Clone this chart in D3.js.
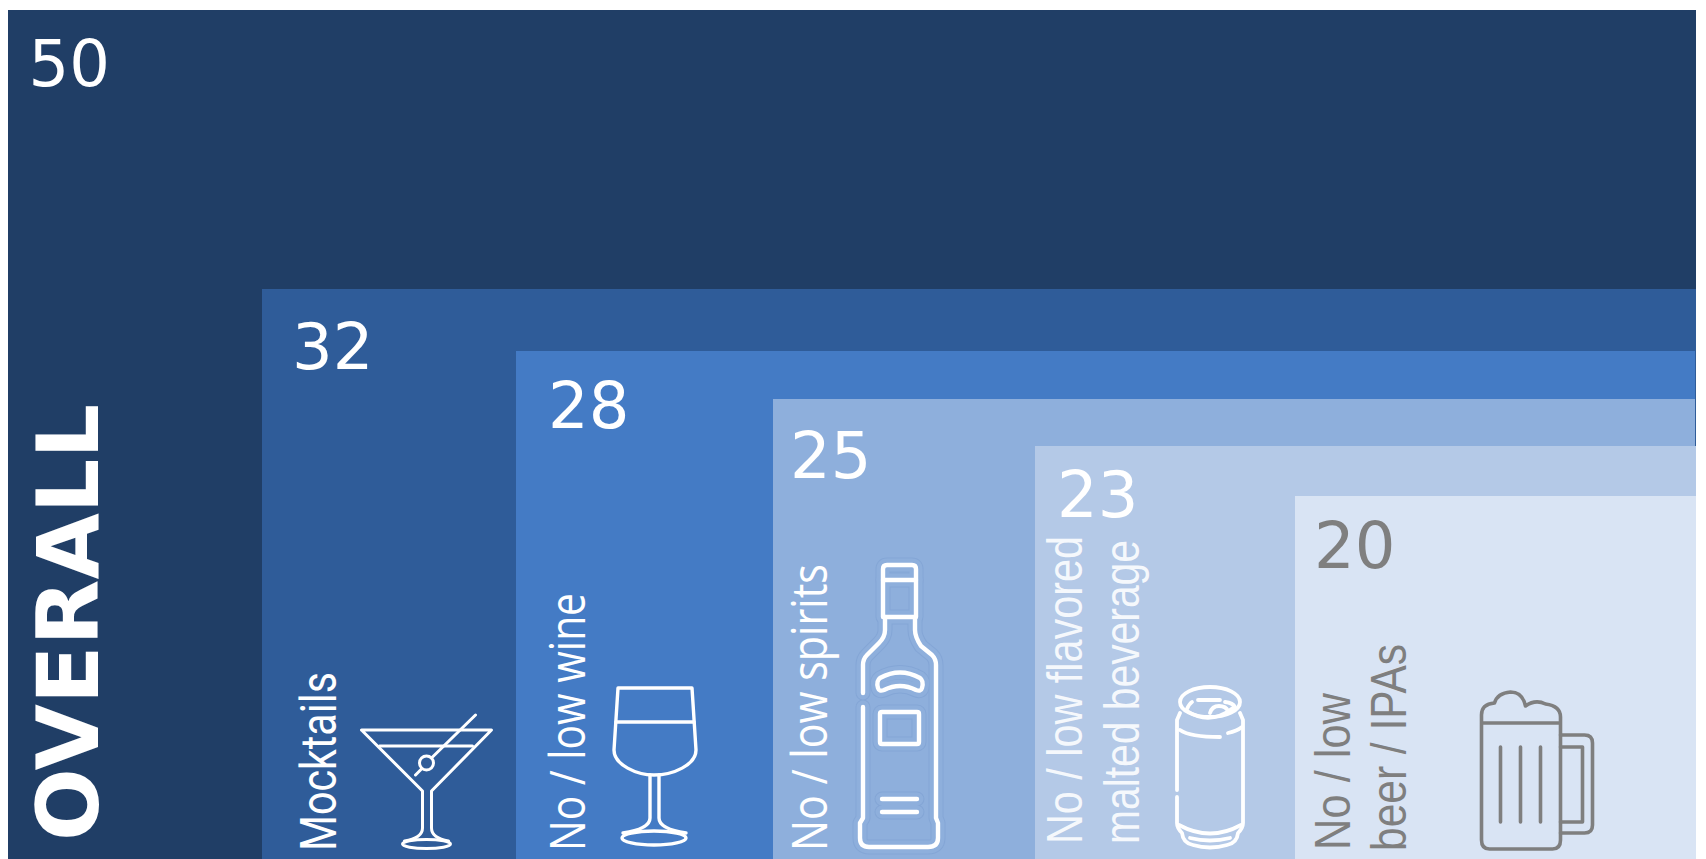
<!DOCTYPE html>
<html>
<head>
<meta charset="utf-8">
<script src="https://cdn.jsdelivr.net/npm/d3@7/dist/d3.min.js"></script>
<style>html,body{margin:0;padding:0;background:#fff;overflow:hidden}svg{display:block}</style>
</head>
<body>
<script>
// Share of respondents by drink category, drawn as nested panels.
const categories = ["Overall", "Mocktails", "No / low wine", "No / low spirits", "No / low flavored malted beverage", "No / low beer / IPAs"];
const values = [50, 32, 28, 25, 23, 20];
const labelLines = [["OVERALL"], ["Mocktails"], ["No / low wine"], ["No / low spirits"], ["No / low flavored", "malted beverage"], ["No / low", "beer / IPAs"]];
const fills = ["#203e66", "#2f5c99", "#447bc5", "#8eafdc", "#b4c9e7", "#d9e4f4"];
const inks = ["#ffffff", "#ffffff", "#ffffff", "#ffffff", "#ffffff", "#7f7f7f"];

const W = 1706, H = 859;
const svg = d3.select("body").append("svg").attr("width", W).attr("height", H);

// The panels step inward with the value; both scales are piecewise so each step keeps its own size.
const xPos = d3.scaleLinear().domain(values).range([8, 262, 516, 773, 1035, 1295]);
const yPos = d3.scaleLinear().domain(values).range([10, 289, 351, 399, 446, 496]);
const rightEdge = [1696, 1696, 1695, 1695, 1696, 1696];

svg.selectAll("rect.panel").data(values).join("rect")
  .attr("class", "panel")
  .attr("x", d => xPos(d))
  .attr("y", d => yPos(d))
  .attr("width", (d, i) => rightEdge[i] - xPos(d))
  .attr("height", d => H - yPos(d))
  .attr("fill", (d, i) => fills[i]);

// Value figures
const figureInset = [[20.5, 76], [30, 80], [32, 77], [17, 79], [22, 71], [19, 72]];
svg.selectAll("text.figure").data(values).join("text")
  .attr("class", "figure")
  .attr("x", (d, i) => xPos(d) + figureInset[i][0])
  .attr("y", (d, i) => yPos(d) + figureInset[i][1])
  .attr("font-family", "DejaVu Sans")
  .attr("font-size", 64)
  .attr("fill", (d, i) => inks[i])
  .text(d => d);

// Rotated category labels: baseline x, start y, run length, face
const labelStyle = [
  [{ x: 98, y: 841, len: 437, font: "DejaVu Sans", size: 85.5, weight: 700 }],
  [{ x: 336, y: 851, len: 179, font: "Roboto", size: 50, weight: 400 }],
  [{ x: 585, y: 851, len: 258, font: "Open Sans", size: 49, weight: 400 }],
  [{ x: 827, y: 851, len: 287, font: "Open Sans", size: 49, weight: 400 }],
  [{ x: 1082, y: 844, len: 308, font: "Liberation Sans", size: 50, weight: 400, opacity: 0.88 },
   { x: 1139, y: 844, len: 304, font: "Liberation Sans", size: 50, weight: 400, opacity: 0.88 }],
  [{ x: 1350, y: 850, len: 157, font: "Liberation Sans", size: 50, weight: 400 },
   { x: 1405.5, y: 851, len: 207, font: "Liberation Sans", size: 50, weight: 400 }]
];
labelLines.forEach((lines, i) => {
  lines.forEach((line, j) => {
    const s = labelStyle[i][j];
    svg.append("text")
      .attr("transform", `translate(${s.x},${s.y}) rotate(-90)`)
      .attr("font-family", s.font)
      .attr("font-size", s.size)
      .attr("font-weight", s.weight)
      .attr("textLength", s.len)
      .attr("lengthAdjust", "spacingAndGlyphs")
      .attr("fill", inks[i])
      .attr("fill-opacity", s.opacity || 1)
      .text(line);
  });
});

// Line icons, each placed relative to the left edge of its panel
const icons = {
  32: { width: 3, dx: -0.5, paths: [
    "M100 730H230L170 791V828Q170 838 187 841M100 730L161 791V828Q161 838 143 841",
    "M118 746H211",
    "M154 775L160 769M170 758L214 715",
    "M158 763a7 7 0 1 0 14 0a7 7 0 1 0 -14 0",
    "M141 844a24 4.5 0 1 0 48 0a24 4.5 0 1 0 -48 0"
  ]},
  28: { width: 3.4, dx: -1, paths: [
    "M103 688H177L181 750C181 765 158 775 139 775C122 775 99 765 99 750Z",
    "M101 722H179",
    "M135 775V818Q135 829 108 833M144 775V818Q144 829 171 833",
    "M107 838a32 7 0 1 0 64 0a32 7 0 1 0 -64 0"
  ]},
  25: { width: 4.4, halo: ["#84a6d6", "#8eafdc"], paths: [
    "M112 617V630Q112 637 106 643L94 655Q90 659 90 665V693",
    "M90 707V818L87 823V838Q87 847 96 847H155Q165 847 165 838V823L163 818V665Q163 659 159 655L148 646Q142 637 142 630V617",
    "M110 617V569Q110 565 114 565H139Q143 565 143 569V617Z",
    "M110 580H143",
    "M107 678Q127 667 147 678Q151 681 149 688Q148 692 143 690Q127 682 111 690Q106 692 105 688Q103 681 107 678Z",
    "M109 712H144Q146 712 146 714V742Q146 744 144 744H109Q107 744 107 742V714Q107 712 109 712Z",
    "M109 799H144M109 812H144"
  ]},
  23: { width: 3.8, paths: [
    "M145 702a30 15 0 1 0 60 0a30 15 0 1 0 -60 0",
    "M163 700H185M152 709Q154 704 157 702M152 711Q175 726 198 708M190 702Q198 703 200 707",
    "M175 713Q177 706 184 706Q191 706 193 711",
    "M145 713L142 720V790M142 797V823Q142 828 147 833Q148 843 158 845Q175 850 192 845Q202 843 203 833Q208 828 208 823V720L205 713",
    "M145 730Q155 737 185 737M193 733Q202 731 207 727",
    "M144 825Q175 842 206 825",
    "M155 838Q175 843 195 838"
  ]},
  20: { width: 3.6, dx: -3.5, paths: [
    "M190 723V715Q190 704 203 703Q206 693 219 692Q231 692 234 706Q244 699 254 704Q269 706 269 717V840Q269 849 261 849H198Q190 849 190 840V723H269",
    "M269 735H293Q301 735 301 743V825Q301 833 293 833H269",
    "M269 747H291V822H269",
    "M209 747V822M229 747V822M249 747V822"
  ]}
};

values.forEach((v, i) => {
  const icon = icons[v];
  if (!icon) return;
  const g = svg.append("g")
    .attr("transform", `translate(${xPos(v) + (icon.dx || 0)},0)`)
    .attr("fill", "none")
    .attr("stroke-linecap", "round")
    .attr("stroke-linejoin", "round");
  if (icon.halo) {
    [[icon.halo[0], 15], [icon.halo[1], 13]].forEach(([c, w]) => {
      g.selectAll(null).data(icon.paths).join("path").attr("d", d => d).attr("stroke", c).attr("stroke-width", w);
    });
  }
  g.selectAll(null).data(icon.paths).join("path")
    .attr("d", d => d)
    .attr("stroke", inks[i])
    .attr("stroke-width", icon.width);
});
</script>
</body>
</html>
